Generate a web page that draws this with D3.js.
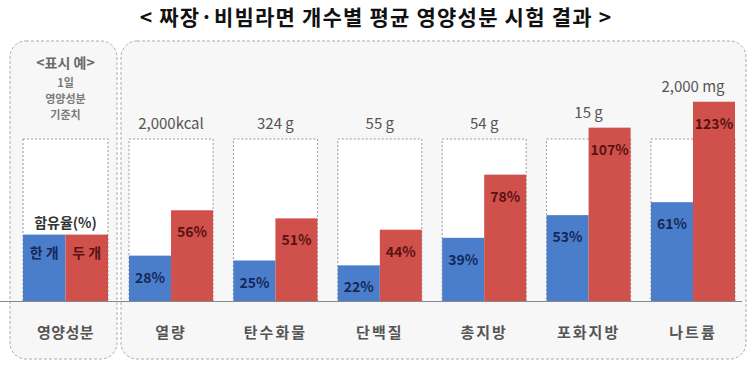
<!DOCTYPE html>
<html>
<head>
<meta charset="utf-8">
<script src="https://cdn.jsdelivr.net/npm/d3@7"></script>
<style>
  body { margin: 0; background: #fff; }
  text { font-family: "Noto Sans CJK KR", "Noto Sans", sans-serif; }
</style>
</head>
<body>
<div id="chart"></div>
<script>
// nutrient categories and daily reference values
const categories = ["열량", "탄수화물", "단백질", "총지방", "포화지방", "나트륨"];
const standards = ["2,000kcal", "324 g", "55 g", "54 g", "15 g", "2,000 mg"];
// content ratio (%) for one / two servings
const oneServing = [28, 25, 22, 39, 53, 61];
const twoServing = [56, 51, 44, 78, 107, 123];
// legend example
const exampleLines = ["1일", "영양성분", "기준치"];
const exampleValue = 41;

const width = 753, height = 365;
const blue = "#4a7ecb", red = "#d0504c";

const svg = d3.select("#chart").append("svg")
  .attr("width", width)
  .attr("height", height);

const data = categories.map((c, i) => ({
  cat: c, std: standards[i], one: oneServing[i], two: twoServing[i]
}));

const x = d3.scaleBand().domain(categories).range([129, 735]).paddingInner(0.195);
const sub = d3.scaleBand().domain(["one", "two"]).range([0, x.bandwidth()]);
const y = d3.scaleLinear().domain([0, 100]).range([301, 139]);

// title
svg.append("text")
  .attr("x", 376).attr("y", 25)
  .attr("text-anchor", "middle")
  .style("font-size", "21px").style("font-weight", "bold")
  .style("letter-spacing", "1.2px")
  .attr("fill", "#111")
  .text("< 짜장·비빔라면 개수별 평균 영양성분 시험 결과 >");

// dashed rounded panels
svg.append("rect")
  .attr("x", 10).attr("y", 41).attr("width", 107).attr("height", 318).attr("rx", 16)
  .attr("fill", "#f7f7f7").attr("stroke", "#aaa").attr("stroke-dasharray", "3,2");
svg.append("rect")
  .attr("x", 121).attr("y", 41).attr("width", 625).attr("height", 318).attr("rx", 16)
  .attr("fill", "#f7f7f7").attr("stroke", "#aaa").attr("stroke-dasharray", "3,2");

// legend example panel
const ex = { left: 23, right: 108 };
const exMid = (ex.left + ex.right) / 2;
svg.append("text")
  .attr("x", exMid).attr("y", 68).attr("text-anchor", "middle")
  .style("font-size", "14px").style("font-weight", "bold").attr("fill", "#6a6a6a")
  .text("<표시 예>");
svg.selectAll(".ex-line").data(exampleLines).enter().append("text")
  .attr("class", "ex-line")
  .attr("x", exMid).attr("y", (d, i) => 87 + i * 16)
  .attr("text-anchor", "middle")
  .style("font-size", "11px").style("font-weight", "bold").attr("fill", "#7a7a7a")
  .text(d => d);

svg.append("rect")
  .attr("x", ex.left).attr("y", y(100)).attr("width", ex.right - ex.left)
  .attr("height", y(0) - y(100))
  .attr("fill", "#fff").attr("stroke", "#999").attr("stroke-dasharray", "2,2");
const exHalf = (ex.right - ex.left) / 2;
svg.append("rect")
  .attr("x", ex.left).attr("y", y(exampleValue)).attr("width", exHalf)
  .attr("height", y(0) - y(exampleValue)).attr("fill", blue);
svg.append("rect")
  .attr("x", ex.left + exHalf).attr("y", y(exampleValue)).attr("width", exHalf)
  .attr("height", y(0) - y(exampleValue)).attr("fill", red);
svg.append("text")
  .attr("x", exMid).attr("y", 228).attr("text-anchor", "middle")
  .style("font-size", "14px").style("font-weight", "bold").attr("fill", "#333")
  .text("함유율(%)");
svg.append("text")
  .attr("x", ex.left + exHalf / 2).attr("y", y(exampleValue) + 23).attr("text-anchor", "middle")
  .style("font-size", "14px").style("font-weight", "bold").attr("fill", "#14285a")
  .text("한 개");
svg.append("text")
  .attr("x", ex.left + exHalf * 1.5).attr("y", y(exampleValue) + 23).attr("text-anchor", "middle")
  .style("font-size", "14px").style("font-weight", "bold").attr("fill", "#5a1212")
  .text("두 개");
svg.append("text")
  .attr("x", exMid).attr("y", 338).attr("text-anchor", "middle")
  .style("font-size", "15px").style("font-weight", "bold").attr("fill", "#555")
  .style("letter-spacing", "0.5px")
  .text("영양성분");

// category groups
const groups = svg.selectAll(".group").data(data).enter().append("g")
  .attr("class", "group")
  .attr("transform", d => `translate(${x(d.cat)},0)`);

// 100% reference boxes
groups.append("rect")
  .attr("x", 0).attr("y", y(100))
  .attr("width", x.bandwidth()).attr("height", y(0) - y(100))
  .attr("fill", "#fff").attr("stroke", "#999").attr("stroke-dasharray", "2,2");

groups.append("rect")
  .attr("x", sub("one")).attr("y", d => y(d.one))
  .attr("width", sub.bandwidth()).attr("height", d => y(0) - y(d.one))
  .attr("fill", blue);
groups.append("rect")
  .attr("x", sub("two")).attr("y", d => y(d.two))
  .attr("width", sub.bandwidth()).attr("height", d => y(0) - y(d.two))
  .attr("fill", red);

groups.append("text")
  .attr("x", sub("one") + sub.bandwidth() / 2).attr("y", d => y(d.one) + 27)
  .attr("text-anchor", "middle")
  .style("font-size", "14px").style("font-weight", "bold").attr("fill", "#14285a")
  .text(d => d.one + "%");
groups.append("text")
  .attr("x", sub("two") + sub.bandwidth() / 2).attr("y", d => y(d.two) + 27)
  .attr("text-anchor", "middle")
  .style("font-size", "14px").style("font-weight", "bold").attr("fill", "#5a1212")
  .text(d => d.two + "%");

// reference value labels above box / bar
groups.append("text")
  .attr("x", x.bandwidth() / 2)
  .attr("y", d => y(Math.max(100, d.two)) - 10)
  .attr("text-anchor", "middle")
  .style("font-size", "15px").attr("fill", "#555")
  .text(d => d.std);

groups.append("text")
  .attr("x", x.bandwidth() / 2).attr("y", 338)
  .attr("text-anchor", "middle")
  .style("font-size", "15px").style("font-weight", "bold").attr("fill", "#555")
  .style("letter-spacing", "2px")
  .text(d => d.cat);

// baseline
svg.append("line")
  .attr("x1", 0).attr("x2", 742).attr("y1", y(0) + 0.5).attr("y2", y(0) + 0.5)
  .attr("stroke", "#888").attr("stroke-width", 1);
</script>
</body>
</html>
